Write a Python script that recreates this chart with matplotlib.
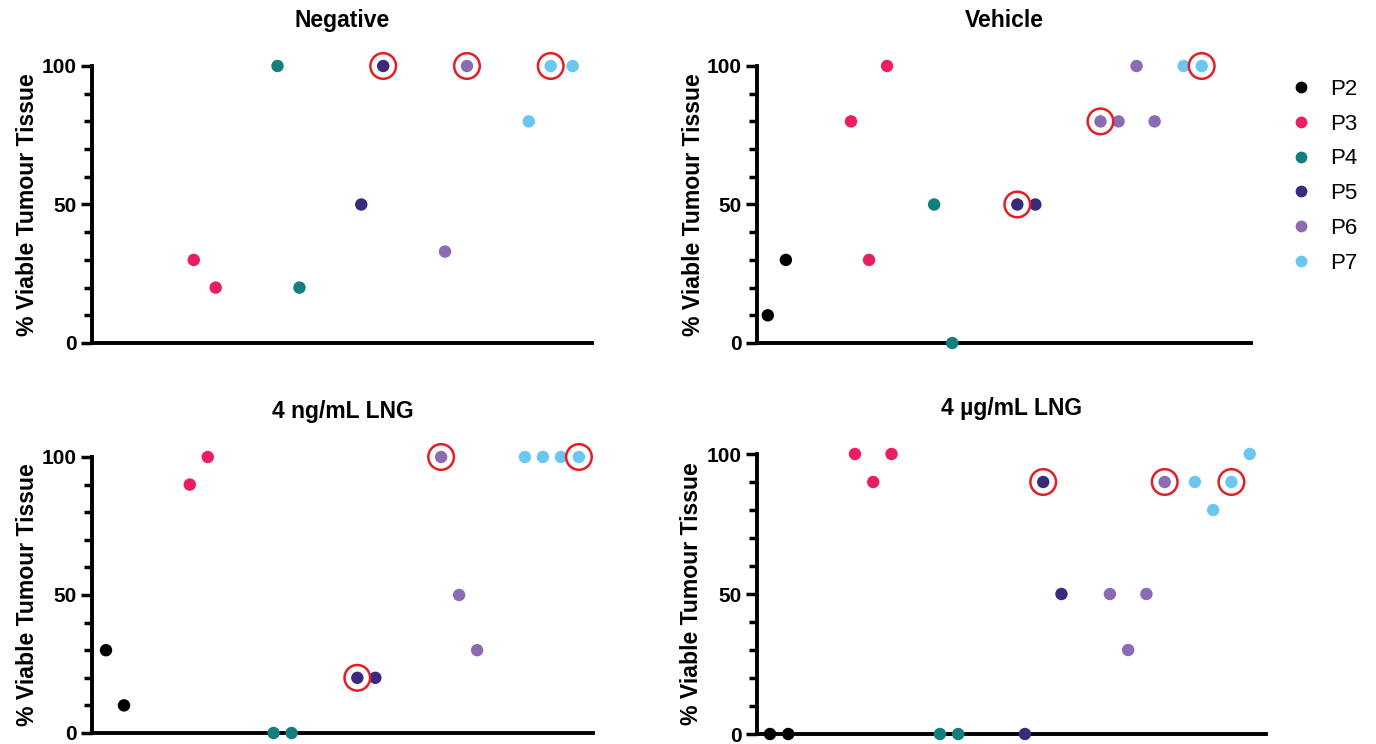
import matplotlib.pyplot as plt
from matplotlib.lines import Line2D

plt.rcParams['font.family'] = ['Liberation Sans', 'DejaVu Sans']

# patients and colours
patients = ["P2", "P3", "P4", "P5", "P6", "P7"]
colors = ["#000000", "#EC1E63", "#137E7B", "#3B2A7C", "#8B6BB4", "#6CC7F0"]

# % viable tumour tissue per patient, one list per panel
negative = [[], [30, 20], [100, 20], [50, 100], [33, 100], [80, 100, 100]]
vehicle = [[10, 30], [80, 30, 100], [50, 0], [50, 50], [80, 80, 100, 80], [100, 100]]
lng_ng = [[30, 10], [90, 100], [0, 0], [20, 20], [100, 50, 30], [100, 100, 100, 100]]
lng_ug = [[0, 0], [100, 90, 100], [0, 0], [0, 90, 50], [50, 30, 50, 90], [90, 80, 90, 100]]

# circled samples (patient index, sample index)
circ_negative = [(3, 1), (4, 1), (5, 1)]
circ_vehicle = [(3, 0), (4, 0), (5, 1)]
circ_ng = [(3, 0), (4, 0), (5, 3)]
circ_ug = [(3, 1), (4, 3), (5, 2)]

titles = ["Negative", "Vehicle", "4 ng/mL LNG", "4 µg/mL LNG"]
panels = [negative, vehicle, lng_ng, lng_ug]
circles = [circ_negative, circ_vehicle, circ_ng, circ_ug]

# layout: axes rect, first-point offset, point step, x extent (group units)
rects = [
    [92 / 1376, 1 - 343 / 744, 500 / 1376, 277 / 744],
    [757 / 1376, 1 - 343 / 744, 494 / 1376, 277 / 744],
    [92 / 1376, 1 - 733 / 744, 501 / 1376, 276 / 744],
    [757 / 1376, 1 - 734 / 744, 509 / 1376, 280 / 744],
]
starts = [0.215, 0.13, 0.167, 0.153]
steps = [0.262, 0.217, 0.215, 0.215]
xmax = [5.97, 5.94, 5.98, 5.99]

fig = plt.figure(figsize=(13.76, 7.44), dpi=100)

for k in range(4):
    ax = fig.add_axes(rects[k])
    data = panels[k]
    for g, vals in enumerate(data):
        if not vals:
            continue
        xs = [g + starts[k] + i * steps[k] for i in range(len(vals))]
        ax.scatter(xs, vals, s=80, color=colors[g], edgecolors='none',
                   zorder=3, clip_on=False)
    for g, i in circles[k]:
        x = g + starts[k] + i * steps[k]
        ax.scatter([x], [data[g][i]], s=340, facecolors='none',
                   edgecolors='#E31E24', linewidths=1.8, zorder=4, clip_on=False)

    ax.set_xlim(0, xmax[k])
    ax.set_ylim(0, 100)
    ax.set_xticks([])
    ax.set_yticks([0, 50, 100])
    ax.set_yticks(range(0, 101, 10), minor=True)
    ax.tick_params(axis='y', which='major', length=8, width=2.5, labelsize=15, pad=3)
    ax.tick_params(axis='y', which='minor', length=5.5, width=2.5)
    for lab in ax.get_yticklabels():
        lab.set_fontweight('bold')
    for side in ['top', 'right']:
        ax.spines[side].set_visible(False)
    for side in ['left', 'bottom']:
        ax.spines[side].set_linewidth(2.8)
    ax.set_ylabel("% Viable Tumour Tissue", fontsize=16.6, fontweight='bold')
    ax.yaxis.set_label_coords(-0.106, 0.5)
    ax.set_title(titles[k], fontsize=16.5, fontweight='bold', pad=28)

handles = [Line2D([], [], marker='o', linestyle='none', markersize=8.5,
                  markerfacecolor=c, markeredgecolor='none') for c in colors]
fig.legend(handles, patients, loc='upper left', bbox_to_anchor=(1270 / 1376, 1 - 70 / 744),
           frameon=False, fontsize=16, labelspacing=0.62, handletextpad=0.3,
           borderaxespad=0)

fig.savefig("out.png", dpi=100)
